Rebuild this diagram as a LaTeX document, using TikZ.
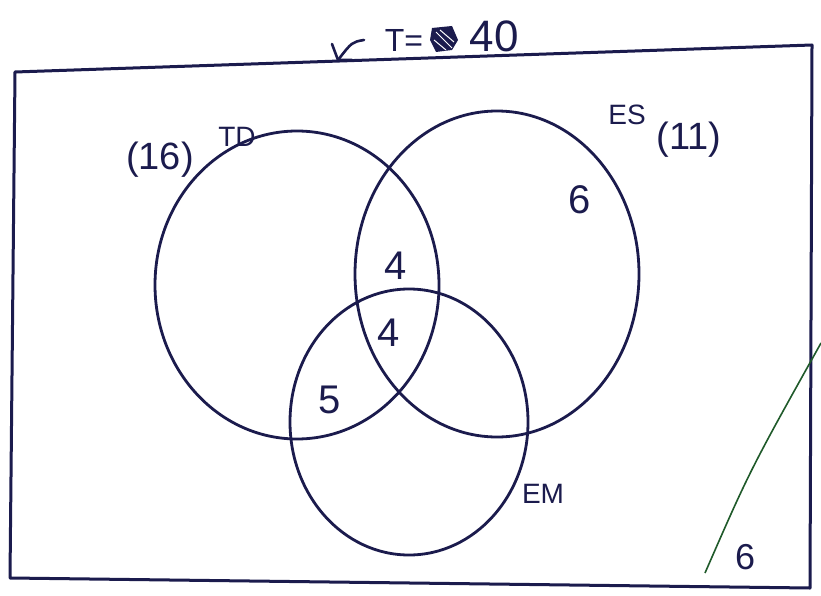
\documentclass[tikz,border=0pt]{standalone}
\usepackage{fontspec}
\setmainfont{Liberation Sans}
\usetikzlibrary{shapes.geometric}
\definecolor{ink}{HTML}{1B1B4D}
\definecolor{pen}{HTML}{1F5A2A}
\tikzset{
  set/.style={draw=ink, line width=2.8pt, ellipse, inner sep=0pt},
  lbl/.style={text=ink, font=\fontsize{28}{32}\selectfont, inner sep=1pt},
  paren/.style={text=ink, font=\fontsize{38}{42}\selectfont, inner sep=1pt},
  num/.style={text=ink, font=\fontsize{40}{44}\selectfont, inner sep=1pt},
}
\begin{document}
\begin{tikzpicture}[x=1pt,y=-1pt]
\useasboundingbox (0,0) rectangle (821,596);
\fill[white] (0,0) rectangle (821,596);
% universe box
\coordinate (c1) at (15,72);
\coordinate (c2) at (812,45);
\coordinate (c3) at (810,588);
\coordinate (c4) at (10,578);
\draw[ink, line width=3pt, line join=round] (c1) -- (c2) -- (c3) -- (c4) -- cycle;
% sets
\node[set, minimum width=284pt, minimum height=308pt] (TD) at (297,285) {};
\node[set, minimum width=284pt, minimum height=326pt] (ES) at (497,274) {};
\node[set, minimum width=238pt, minimum height=266pt] (EM) at (409,422) {};
% labels
\node[paren] (tdn) at (160,160) {(16)};
\node[lbl] (tdl) at (237,137) {TD};
\node[lbl] (esl) at (627,115) {ES};
\node[paren] (esn) at (689,140) {(11)};
\node[lbl] (eml) at (543,494) {EM};
% region numbers
\node[num] (n6a) at (580,200) {6};
\node[num] (n4a) at (396,266) {4};
\node[num] (n4b) at (389,333) {4};
\node[num] (n5) at (330,400) {5};
\node[num, font=\fontsize{36}{40}\selectfont] (n6b) at (745,557) {6};
% total
\node[lbl, font=\fontsize{32}{36}\selectfont] (T) at (404,40) {T=};
\node[num, font=\fontsize{44}{48}\selectfont] (forty) at (494,36) {40};
\fill[ink] (432,28) -- (452,26) -- (458,40) -- (452,50) -- (436,52) -- (430,40) -- cycle;
\draw[white, line width=1pt] (436,32) -- (452,48) (440,30) -- (454,42) (434,40) -- (446,50);
% hand arrow
\coordinate (a0) at (364,40);
\coordinate (a1) at (338,60);
\draw[ink, line width=2.6pt, line cap=round, line join=round]
  (a0) .. controls (352,42) .. (a1);
\draw[ink, line width=2.6pt, line cap=round, line join=round]
  (332,44) -- (a1) -- (352,60);
% stray pen line
\coordinate (g1) at (705,573);
\coordinate (g2) at (821,343);
\draw[pen, line width=1.6pt] (g1) .. controls (750,470) .. (g2);
\end{tikzpicture}
\end{document}
